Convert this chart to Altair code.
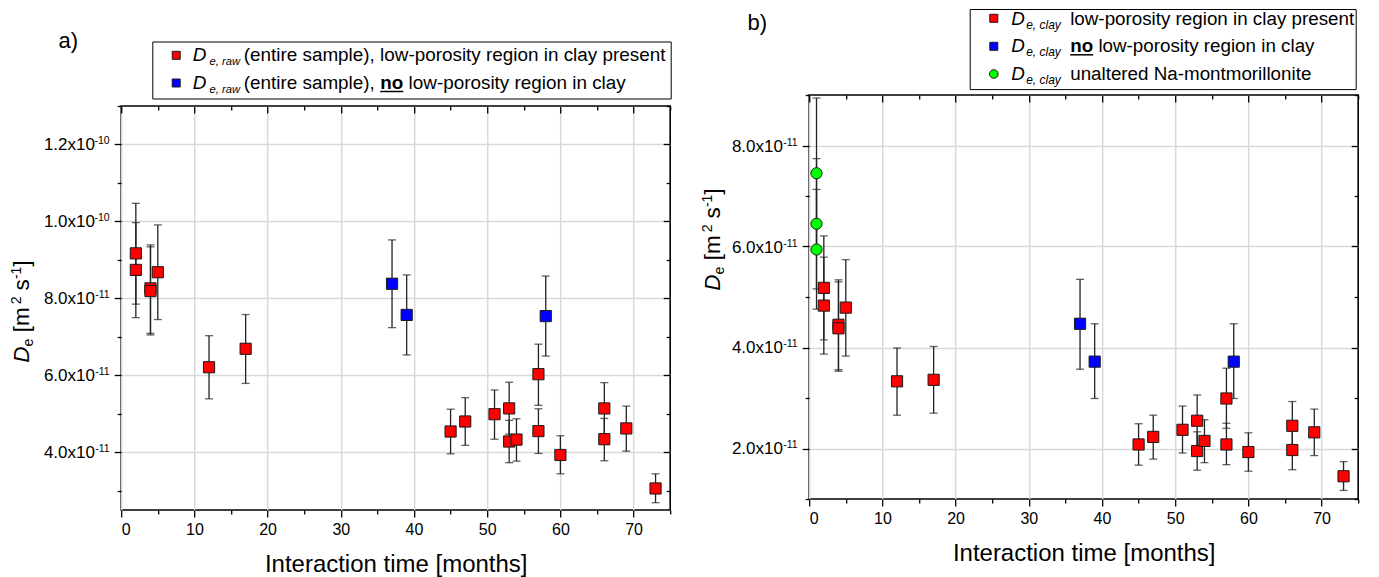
import altair as alt
import pandas as pd

FONT = "Liberation Sans"

# ---------------- panel a data ----------------
a_month = [2, 2, 4, 4, 5, 12, 17, 45, 47, 51, 53, 53, 54, 57, 57, 60, 66, 66, 69, 73, 37, 39, 58]
a_de = [9.17e-11, 8.74e-11, 8.26e-11, 8.19e-11, 8.68e-11, 6.21e-11, 6.69e-11, 4.54e-11, 4.80e-11,
        4.99e-11, 5.14e-11, 4.28e-11, 4.33e-11, 6.03e-11, 4.55e-11, 3.93e-11, 5.14e-11, 4.34e-11,
        4.62e-11, 3.06e-11, 8.38e-11, 7.57e-11, 7.54e-11]
a_lo = [7.50e-11, 7.85e-11, 7.09e-11, 7.05e-11, 7.45e-11, 5.39e-11, 5.79e-11, 3.96e-11, 4.18e-11,
        4.34e-11, 4.47e-11, 3.73e-11, 3.77e-11, 5.22e-11, 3.97e-11, 3.44e-11, 4.48e-11, 3.78e-11,
        4.03e-11, 2.69e-11, 7.24e-11, 6.53e-11, 6.50e-11]
a_hi = [1.047e-10, 9.97e-11, 9.39e-11, 9.34e-11, 9.91e-11, 7.03e-11, 7.58e-11, 5.12e-11, 5.42e-11,
        5.62e-11, 5.82e-11, 4.83e-11, 4.87e-11, 6.81e-11, 5.13e-11, 4.43e-11, 5.81e-11, 4.88e-11,
        5.20e-11, 3.44e-11, 9.52e-11, 8.61e-11, 8.58e-11]
a_series = ["present"] * 20 + ["no"] * 3

# ---------------- panel b data ----------------
b_month = [1, 1, 1, 2, 2, 4, 4, 5, 12, 17, 45, 47, 51, 53, 53, 54, 57, 57, 60, 66, 66, 69, 73, 37, 39, 58]
b_de = [7.45e-11, 6.45e-11, 5.94e-11, 5.18e-11, 4.83e-11, 4.45e-11, 4.38e-11, 4.79e-11, 3.33e-11,
        3.36e-11, 2.08e-11, 2.23e-11, 2.37e-11, 2.55e-11, 1.95e-11, 2.15e-11, 2.99e-11, 2.08e-11,
        1.93e-11, 2.45e-11, 1.97e-11, 2.32e-11, 1.45e-11, 4.47e-11, 3.72e-11, 3.72e-11]
b_lo = [5.96e-11, 5.16e-11, 4.76e-11, 4.15e-11, 3.87e-11, 3.56e-11, 3.53e-11, 3.83e-11, 2.66e-11,
        2.70e-11, 1.67e-11, 1.79e-11, 1.91e-11, 2.05e-11, 1.57e-11, 1.72e-11, 2.40e-11, 1.68e-11,
        1.55e-11, 1.97e-11, 1.58e-11, 1.86e-11, 1.17e-11, 3.57e-11, 2.99e-11, 2.99e-11]
b_hi = [8.94e-11, 7.74e-11, 7.13e-11, 6.21e-11, 5.79e-11, 5.34e-11, 5.30e-11, 5.74e-11, 3.99e-11,
        4.02e-11, 2.49e-11, 2.66e-11, 2.84e-11, 3.06e-11, 2.33e-11, 2.57e-11, 3.59e-11, 2.50e-11,
        2.31e-11, 2.93e-11, 2.36e-11, 2.78e-11, 1.74e-11, 5.35e-11, 4.47e-11, 4.47e-11]
b_series = ["unaltered"] * 3 + ["present"] * 20 + ["no"] * 3

# ---------------- axes ticks / labels ----------------
x_major = [0, 10, 20, 30, 40, 50, 60, 70]
x_minor = [5, 15, 25, 35, 45, 55, 65, 75]

a_ytick_vals = [4e-11, 6e-11, 8e-11, 1.0e-10, 1.2e-10]
a_ytick_mant = ["4.0x10", "6.0x10", "8.0x10", "1.0x10", "1.2x10"]
a_ytick_exp = ["-11", "-11", "-11", "-10", "-10"]
a_yminor = [3e-11, 5e-11, 7e-11, 9e-11, 1.1e-10, 1.3e-10]

b_ytick_vals = [2e-11, 4e-11, 6e-11, 8e-11]
b_ytick_mant = ["2.0x10", "4.0x10", "6.0x10", "8.0x10"]
b_ytick_exp = ["-11", "-11", "-11", "-11"]
b_yminor = [1e-11, 3e-11, 5e-11, 7e-11, 9e-11]

series_names = ["present", "no", "unaltered"]
series_colors = ["#ff0000", "#0000ff", "#00ff00"]
series_shapes = ["square", "square", "circle"]
series_sizes = [125, 125, 140]

W, H = 549, 404
TICK = "#000000"
GRID = "#d9d9d9"
BAR = "#222222"


def ax(orient, values, size, offset=0, grid=False, **kw):
    return alt.Axis(orient=orient, values=values, tickSize=size, offset=offset, grid=grid,
                    labels=kw.pop("labels", False), domain=False, ticks=True, tickColor=TICK,
                    tickWidth=1.3, gridColor=GRID, gridWidth=1.5, title=kw.pop("title", None), **kw)


def txt(s, x, y, size, style="normal", weight="normal", angle=0, dx=0, dy=0, align="left"):
    return alt.Chart(pd.DataFrame({"t": [s]})).mark_text(
        font=FONT, fontSize=size, fontStyle=style, fontWeight=weight, angle=angle,
        dx=dx, dy=dy, align=align, baseline="alphabetic", color="black"
    ).encode(x=alt.value(x), y=alt.value(y), text="t:N")


def one():
    return pd.DataFrame({"k": [0]})


def build_panel(month, de, lo, hi, series, ydom, ytv, ytm, yte, yminor, extra):
    df = pd.DataFrame({"month": month, "de": de, "lo": lo, "hi": hi, "series": series})
    xs = alt.Scale(domain=[0, 75], nice=False, zero=False)
    ys = alt.Scale(domain=ydom, nice=False, zero=False)

    rules = alt.Chart(df).mark_rule(color=BAR, strokeWidth=1.3).encode(
        x=alt.X("month:Q", scale=xs, axis=ax(
            "bottom", x_major, 7, grid=True, labels=True, title="Interaction time [months]",
            labelFont=FONT, labelFontSize=16, labelColor="black", labelPadding=5,
            titleFont=FONT, titleFontSize=24, titleFontWeight="normal", titleColor="black",
            titlePadding=15)),
        y=alt.Y("lo:Q", scale=ys, axis=ax("left", ytv, 7, grid=True)),
        y2="hi:Q",
    )
    caps_hi = alt.Chart(df).mark_tick(orient="horizontal", size=8, thickness=1.3, color=BAR).encode(
        x=alt.X("month:Q", scale=xs, axis=ax("bottom", x_minor, 4)),
        y=alt.Y("hi:Q", scale=ys, axis=ax("left", yminor, 4)),
    )
    caps_lo = alt.Chart(df).mark_tick(orient="horizontal", size=8, thickness=1.3, color=BAR).encode(
        x=alt.X("month:Q", scale=xs, axis=ax("top", x_major, 7, offset=-7)),
        y=alt.Y("lo:Q", scale=ys, axis=ax("right", ytv, 7, offset=-7)),
    )
    pts = alt.Chart(df).mark_point(filled=True, opacity=1, stroke="#1a1a1a",
                                   strokeWidth=1, strokeOpacity=1).encode(
        x=alt.X("month:Q", scale=xs, axis=ax("top", x_minor, 4, offset=-4)),
        y=alt.Y("de:Q", scale=ys, axis=ax("right", yminor, 4, offset=-4)),
        fill=alt.Fill("series:N", scale=alt.Scale(domain=series_names, range=series_colors), legend=None),
        shape=alt.Shape("series:N", scale=alt.Scale(domain=series_names, range=series_shapes), legend=None),
        size=alt.Size("series:N", scale=alt.Scale(domain=series_names, range=series_sizes), legend=None),
    )
    dft = pd.DataFrame({"v": ytv, "m": ytm, "e": yte})
    mant = alt.Chart(dft).mark_text(font=FONT, fontSize=17, align="right", baseline="alphabetic",
                                    dy=6, color="black").encode(
        x=alt.value(-26.3), y=alt.Y("v:Q", scale=ys, axis=None), text="m:N")
    expo = alt.Chart(dft).mark_text(font=FONT, fontSize=10.5, align="right", baseline="alphabetic",
                                    dy=0, color="black").encode(
        x=alt.value(-11.5), y=alt.Y("v:Q", scale=ys, axis=None), text="e:N")

    layers = [rules, caps_hi, caps_lo, pts, mant, expo] + extra
    return alt.layer(*layers).resolve_axis(x="independent", y="independent").properties(
        width=W, height=H, view=alt.ViewBackground(stroke="black", strokeWidth=1.6))


def ytitle(xb, center):
    F, S = 22.5, 14
    L = 101.3
    y0 = center + L / 2
    return [
        txt("D", xb, y0, F, style="italic", angle=270, dx=0),
        txt("e", xb, y0, S, angle=270, dx=16.2, dy=4),
        txt("[m", xb, y0, F, angle=270, dx=30.3),
        txt("2", xb, y0, S, angle=270, dx=58.5, dy=-8),
        txt("s", xb, y0, F, angle=270, dx=72.1),
        txt("-1", xb, y0, S, angle=270, dx=83.6, dy=-8),
        txt("]", xb, y0, F, angle=270, dx=95.8),
    ]


def box(x1, x2, y1, y2):
    return alt.Chart(one()).mark_rect(fill="white", stroke="black", strokeWidth=1).encode(
        x=alt.value(x1), x2=alt.value(x2), y=alt.value(y1), y2=alt.value(y2))


def swatch(x, y, color, shape="square", size=64):
    return alt.Chart(one()).mark_point(filled=True, shape=shape, size=size, opacity=1,
                                       stroke="#1a1a1a", strokeWidth=1).encode(
        x=alt.value(x), y=alt.value(y), fill=alt.value(color))


def underline(x1, x2, y):
    return alt.Chart(one()).mark_rule(color="black", strokeWidth=1.5).encode(
        x=alt.value(x1), x2=alt.value(x2), y=alt.value(y))


LF, SF = 18.9, 11.2
SP = 0.278 * LF  # width of a space
NO = 1.222 * LF  # width of bold "no"

# ---- legend + labels panel a ----
a_no_x = 122.5 + 7.224 * LF
extra_a = [box(31.6, 550, -64, -7),
           swatch(55, -50.7, "#ff0000"), swatch(55, -23, "#0000ff"),
           txt("D", 71.6, -44.7, LF, style="italic"),
           txt("e, raw", 88.3, -44.7, SF, style="italic", dy=4),
           txt("(entire sample), low-porosity region in clay present", 122.5, -44.7, LF),
           txt("D", 71.6, -17, LF, style="italic"),
           txt("e, raw", 88.3, -17, SF, style="italic", dy=4),
           txt("(entire sample),", 122.5, -17, LF),
           txt("no", a_no_x, -17, LF, weight="bold"),
           underline(a_no_x, a_no_x + NO, -14.5),
           txt("low-porosity region in clay", a_no_x + NO + SP, -17, LF),
           txt("a)", -62.7, -58, 22)] + ytitle(-92, 206)

# ---- legend + labels panel b ----
SFB = 12
LFB = 18.8
NOB = 1.222 * LFB
extra_b = [box(161, 547, -85.5, -5.4),
           swatch(184.6, -76.7, "#ff0000"), swatch(184.6, -48.7, "#0000ff"),
           swatch(184.6, -21, "#00ff00", shape="circle", size=75),
           txt("D", 202, -70.5, LFB, style="italic"),
           txt("e, clay", 217, -70.5, SFB, style="italic", dy=4),
           txt("low-porosity region in clay present", 261, -70.5, LFB),
           txt("D", 202, -42.7, LFB, style="italic"),
           txt("e, clay", 217, -42.7, SFB, style="italic", dy=4),
           txt("no", 261, -42.7, LFB, weight="bold"),
           underline(261, 261 + NOB, -40.2),
           txt("low-porosity region in clay", 261 + NOB + 0.278 * LFB, -42.7, LFB),
           txt("D", 202, -15, LFB, style="italic"),
           txt("e, clay", 217, -15, SFB, style="italic", dy=4),
           txt("unaltered Na-montmorillonite", 261, -15, LFB),
           txt("b)", -61.7, -64.7, 22)] + ytitle(-89, 145)

panel_a = build_panel(a_month, a_de, a_lo, a_hi, a_series, [2.5e-11, 1.3e-10],
                      a_ytick_vals, a_ytick_mant, a_ytick_exp, a_yminor, extra_a)
panel_b = build_panel(b_month, b_de, b_lo, b_hi, b_series, [1e-11, 9e-11],
                      b_ytick_vals, b_ytick_mant, b_ytick_exp, b_yminor, extra_b)

spacer = alt.Chart(one()).mark_point(opacity=0).encode(
    x=alt.value(0), y=alt.value(0)).properties(
    width=W, height=10.8, view=alt.ViewBackground(stroke="transparent"))

col_a = alt.vconcat(spacer, panel_a, spacing=0, bounds="flush")
chart = alt.hconcat(col_a, panel_b, spacing=688, bounds="flush").properties(
    padding={"left": 1.2, "top": 0, "right": 0, "bottom": 0}
).configure_view(stroke="transparent").configure(font=FONT)

chart.save("out.html", embed_options={"renderer": "svg", "actions": False})
